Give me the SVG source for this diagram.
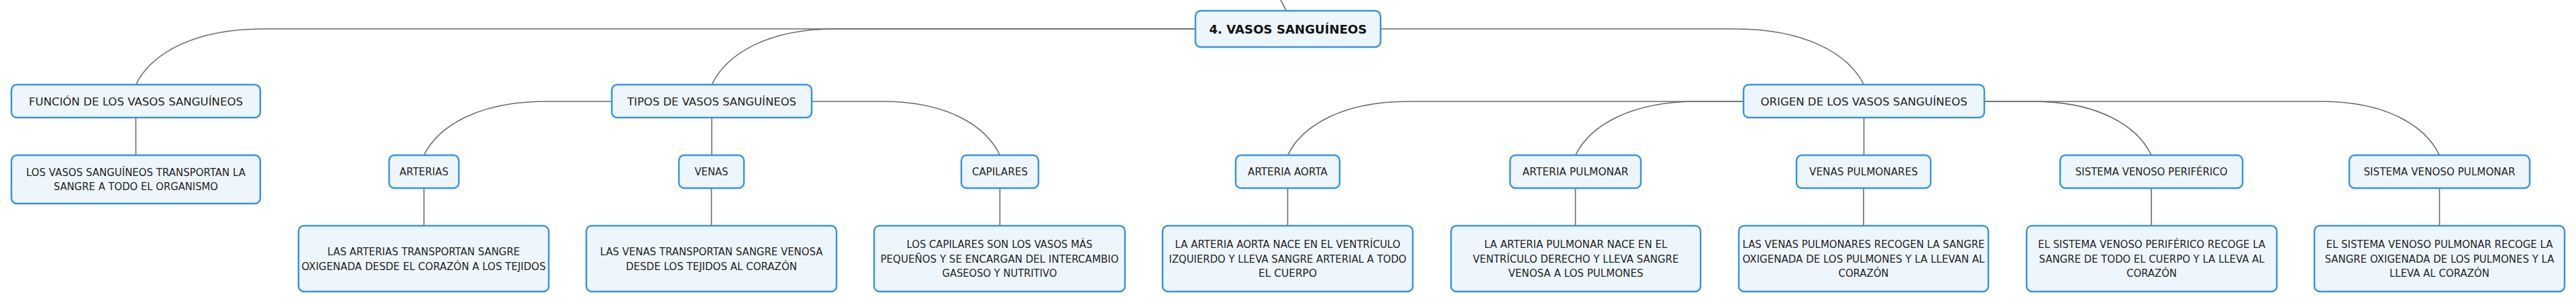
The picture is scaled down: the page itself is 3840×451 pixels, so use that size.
<svg xmlns="http://www.w3.org/2000/svg" width="3840" height="451" viewBox="0 0 3840 451">
<style>
.box{fill:#EEF6FD;stroke:#3A94DC;stroke-width:2.5}
.c{fill:none;stroke:#6a6a6a;stroke-width:1.6}
text{font-family:"DejaVu Sans","Liberation Sans",sans-serif;fill:#1e1e1e;text-anchor:middle}
.root{font-size:18px;font-weight:bold;fill:#111}
.l1{font-size:16px}
.l2{font-size:15px}
.lf{font-size:15px}
</style>
<rect width="3840" height="451" fill="#fff"/>
<g id="connectors">
<path class="c" d="M1909 0 C1912 5 1915 10 1917 16"/>
<path class="c" d="M1782 43 H392 C287.8 43 225.2 80.4 202.5 126"/>
<path class="c" d="M1782 43 H1245 C1143.8 43 1083.1 80.4 1061 126"/>
<path class="c" d="M2058 43 H2586 C2691.9 43 2755.4 80.4 2778.5 126"/>
<path class="c" d="M912 151 H814 C713.9 151 653.8 187 632 231"/>
<path class="c" d="M1210 151 H1315.5 C1411.8 151 1469.5 187 1490.5 231"/>
<path class="c" d="M2599 151 H2100 C2000.7 151 1941.2 187 1919.5 231"/>
<path class="c" d="M2599 151 H2530 C2430.2 151 2370.3 187 2348.5 231"/>
<path class="c" d="M2958 151 H3030 C3127.3 151 3185.8 187 3207 231"/>
<path class="c" d="M2958 151 H3460 C3557.1 151 3615.3 187 3636.5 231"/>
<path class="c" d="M202.5 175 V231"/>
<path class="c" d="M1061 175 V231"/>
<path class="c" d="M2778.5 175 V231"/>
<path class="c" d="M632 280 V336"/>
<path class="c" d="M1060.5 280 V336"/>
<path class="c" d="M1490.5 280 V336"/>
<path class="c" d="M1919.5 280 V336"/>
<path class="c" d="M2348.5 280 V336"/>
<path class="c" d="M2778 280 V336"/>
<path class="c" d="M3207 280 V336"/>
<path class="c" d="M3636.5 280 V336"/>
</g>
<g id="root"><rect class="box" x="1782" y="16" width="276" height="54" rx="8"/><text class="root" x="1920" y="49.5" textLength="235" lengthAdjust="spacingAndGlyphs">4. VASOS SANGUÍNEOS</text></g>
<g id="funcion"><rect class="box" x="17" y="126" width="371" height="49" rx="8"/><text class="l1" x="202.5" y="156.8" textLength="319" lengthAdjust="spacingAndGlyphs">FUNCIÓN DE LOS VASOS SANGUÍNEOS</text></g>
<g id="funcion-desc"><rect class="box" x="17" y="231" width="371" height="72" rx="8"/><text class="lf" x="202.5" y="261.5" textLength="327" lengthAdjust="spacingAndGlyphs">LOS VASOS SANGUÍNEOS TRANSPORTAN LA</text><text class="lf" x="202.5" y="283" textLength="245" lengthAdjust="spacingAndGlyphs">SANGRE A TODO EL ORGANISMO</text></g>
<g id="tipos"><rect class="box" x="912" y="126" width="298" height="49" rx="8"/><text class="l1" x="1061" y="156.8" textLength="252" lengthAdjust="spacingAndGlyphs">TIPOS DE VASOS SANGUÍNEOS</text></g>
<g id="origen"><rect class="box" x="2599" y="126" width="359" height="49" rx="8"/><text class="l1" x="2778.5" y="156.8" textLength="308" lengthAdjust="spacingAndGlyphs">ORIGEN DE LOS VASOS SANGUÍNEOS</text></g>
<g id="arterias"><rect class="box" x="580" y="231" width="104" height="49" rx="8"/><text class="l2" x="632" y="261" textLength="73" lengthAdjust="spacingAndGlyphs">ARTERIAS</text></g>
<g id="venas"><rect class="box" x="1012" y="231" width="97" height="49" rx="8"/><text class="l2" x="1060.5" y="261" textLength="50" lengthAdjust="spacingAndGlyphs">VENAS</text></g>
<g id="capilares"><rect class="box" x="1433" y="231" width="115" height="49" rx="8"/><text class="l2" x="1490.5" y="261" textLength="83" lengthAdjust="spacingAndGlyphs">CAPILARES</text></g>
<g id="aorta"><rect class="box" x="1842" y="231" width="155" height="49" rx="8"/><text class="l2" x="1919.5" y="261" textLength="119" lengthAdjust="spacingAndGlyphs">ARTERIA AORTA</text></g>
<g id="pulmonar"><rect class="box" x="2251" y="231" width="195" height="49" rx="8"/><text class="l2" x="2348.5" y="261" textLength="158" lengthAdjust="spacingAndGlyphs">ARTERIA PULMONAR</text></g>
<g id="venas-pulmonares"><rect class="box" x="2678" y="231" width="200" height="49" rx="8"/><text class="l2" x="2778" y="261" textLength="162" lengthAdjust="spacingAndGlyphs">VENAS PULMONARES</text></g>
<g id="sv-periferico"><rect class="box" x="3071" y="231" width="272" height="49" rx="8"/><text class="l2" x="3207" y="261" textLength="227" lengthAdjust="spacingAndGlyphs">SISTEMA VENOSO PERIFÉRICO</text></g>
<g id="sv-pulmonar"><rect class="box" x="3502" y="231" width="269" height="49" rx="8"/><text class="l2" x="3636.5" y="261" textLength="226" lengthAdjust="spacingAndGlyphs">SISTEMA VENOSO PULMONAR</text></g>
<g id="arterias-desc"><rect class="box" x="445" y="336" width="373" height="98" rx="8"/><text class="lf" x="631.5" y="379.5" textLength="287" lengthAdjust="spacingAndGlyphs">LAS ARTERIAS TRANSPORTAN SANGRE</text><text class="lf" x="631.5" y="401.5" textLength="364" lengthAdjust="spacingAndGlyphs">OXIGENADA DESDE EL CORAZÓN A LOS TEJIDOS</text></g>
<g id="venas-desc"><rect class="box" x="874" y="336" width="373" height="98" rx="8"/><text class="lf" x="1060.5" y="379.5" textLength="332" lengthAdjust="spacingAndGlyphs">LAS VENAS TRANSPORTAN SANGRE VENOSA</text><text class="lf" x="1060.5" y="401.5" textLength="255" lengthAdjust="spacingAndGlyphs">DESDE LOS TEJIDOS AL CORAZÓN</text></g>
<g id="capilares-desc"><rect class="box" x="1303" y="336" width="374" height="98" rx="8"/><text class="lf" x="1490" y="369" textLength="277" lengthAdjust="spacingAndGlyphs">LOS CAPILARES SON LOS VASOS MÁS</text><text class="lf" x="1490" y="390.5" textLength="355" lengthAdjust="spacingAndGlyphs">PEQUEÑOS Y SE ENCARGAN DEL INTERCAMBIO</text><text class="lf" x="1490" y="412" textLength="171" lengthAdjust="spacingAndGlyphs">GASEOSO Y NUTRITIVO</text></g>
<g id="aorta-desc"><rect class="box" x="1733" y="336" width="373" height="98" rx="8"/><text class="lf" x="1919.5" y="369" textLength="336" lengthAdjust="spacingAndGlyphs">LA ARTERIA AORTA NACE EN EL VENTRÍCULO</text><text class="lf" x="1919.5" y="390.5" textLength="354" lengthAdjust="spacingAndGlyphs">IZQUIERDO Y LLEVA SANGRE ARTERIAL A TODO</text><text class="lf" x="1919.5" y="412" textLength="87" lengthAdjust="spacingAndGlyphs">EL CUERPO</text></g>
<g id="pulmonar-desc"><rect class="box" x="2163" y="336" width="372" height="98" rx="8"/><text class="lf" x="2349" y="369" textLength="273" lengthAdjust="spacingAndGlyphs">LA ARTERIA PULMONAR NACE EN EL</text><text class="lf" x="2349" y="390.5" textLength="307" lengthAdjust="spacingAndGlyphs">VENTRÍCULO DERECHO Y LLEVA SANGRE</text><text class="lf" x="2349" y="412" textLength="201" lengthAdjust="spacingAndGlyphs">VENOSA A LOS PULMONES</text></g>
<g id="venas-pulmonares-desc"><rect class="box" x="2592" y="336" width="372" height="98" rx="8"/><text class="lf" x="2778" y="369" textLength="361" lengthAdjust="spacingAndGlyphs">LAS VENAS PULMONARES RECOGEN LA SANGRE</text><text class="lf" x="2778" y="390.5" textLength="361" lengthAdjust="spacingAndGlyphs">OXIGENADA DE LOS PULMONES Y LA LLEVAN AL</text><text class="lf" x="2778" y="412" textLength="75" lengthAdjust="spacingAndGlyphs">CORAZÓN</text></g>
<g id="sv-periferico-desc"><rect class="box" x="3021" y="336" width="373" height="98" rx="8"/><text class="lf" x="3207.5" y="369" textLength="339" lengthAdjust="spacingAndGlyphs">EL SISTEMA VENOSO PERIFÉRICO RECOGE LA</text><text class="lf" x="3207.5" y="390.5" textLength="336" lengthAdjust="spacingAndGlyphs">SANGRE DE TODO EL CUERPO Y LA LLEVA AL</text><text class="lf" x="3207.5" y="412" textLength="75" lengthAdjust="spacingAndGlyphs">CORAZÓN</text></g>
<g id="sv-pulmonar-desc"><rect class="box" x="3450" y="336" width="373" height="98" rx="8"/><text class="lf" x="3636.5" y="369" textLength="338" lengthAdjust="spacingAndGlyphs">EL SISTEMA VENOSO PULMONAR RECOGE LA</text><text class="lf" x="3636.5" y="390.5" textLength="342" lengthAdjust="spacingAndGlyphs">SANGRE OXIGENADA DE LOS PULMONES Y LA</text><text class="lf" x="3636.5" y="412" textLength="149" lengthAdjust="spacingAndGlyphs">LLEVA AL CORAZÓN</text></g>
</svg>
